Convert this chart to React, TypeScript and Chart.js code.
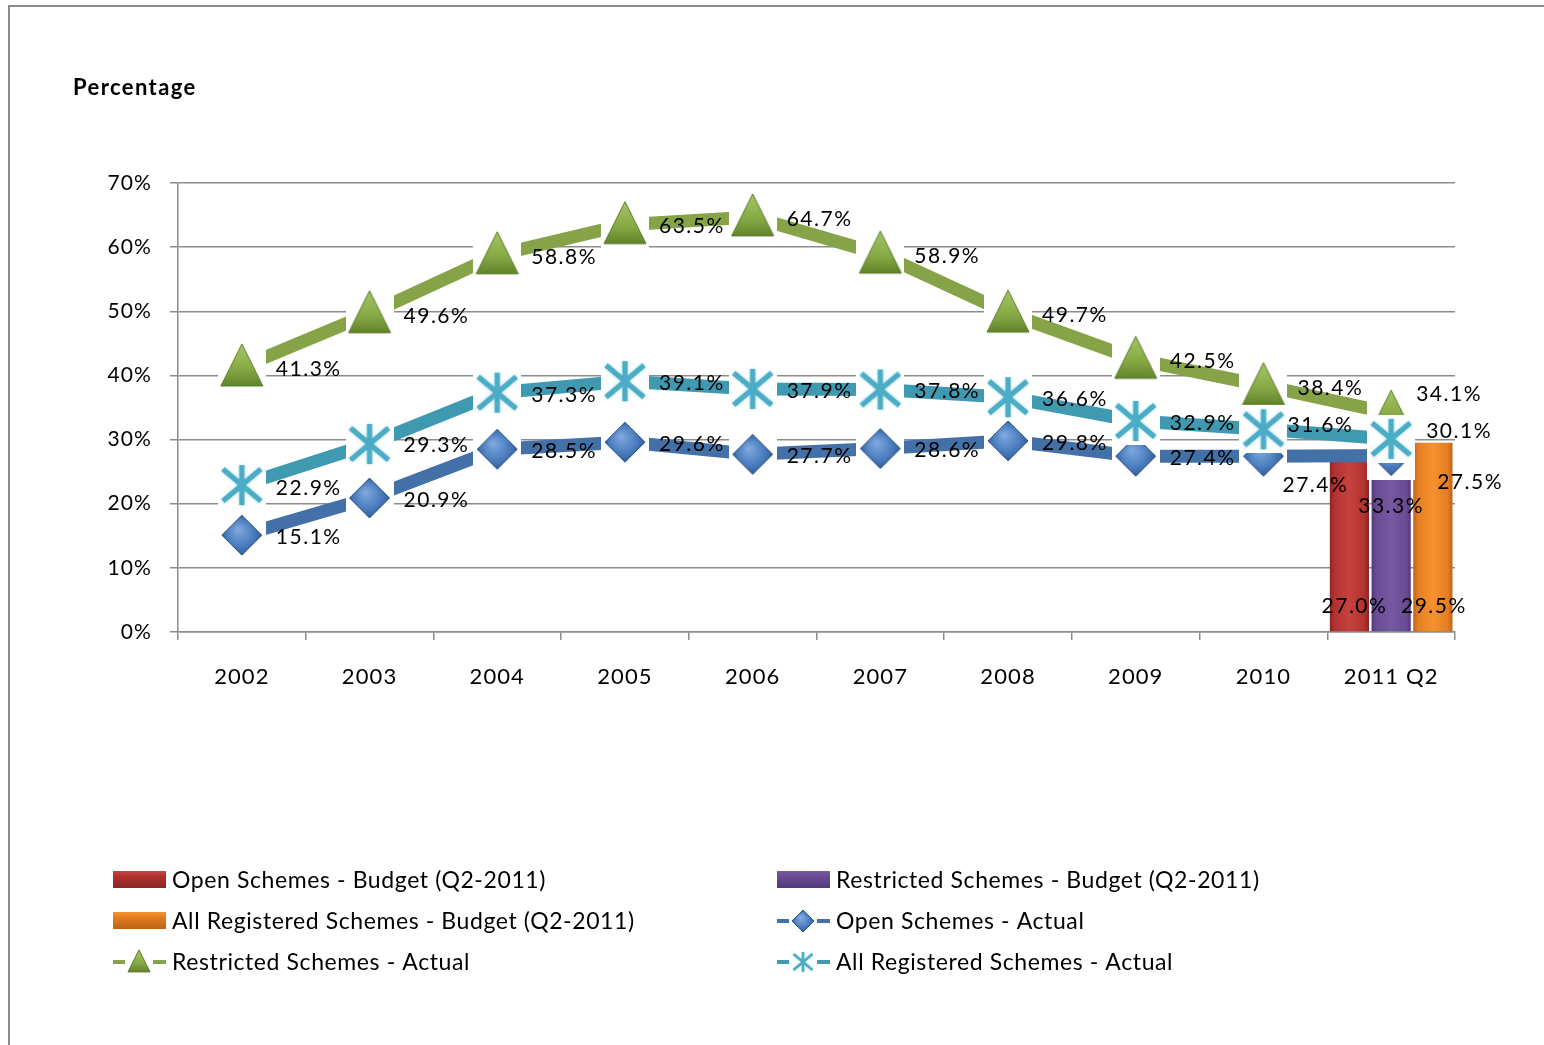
import React, { useEffect, useRef } from 'react';
import { Chart, registerables } from 'chart.js';

Chart.register(...registerables);

// ---------------- data ----------------
const categories = ['2002', '2003', '2004', '2005', '2006', '2007', '2008', '2009', '2010', '2011 Q2'];

const openBudget = [null, null, null, null, null, null, null, null, null, 27.0];
const restrictedBudget = [null, null, null, null, null, null, null, null, null, 33.3];
const allBudget = [null, null, null, null, null, null, null, null, null, 29.5];

const openActual = [15.1, 20.9, 28.5, 29.6, 27.7, 28.6, 29.8, 27.4, 27.4, 27.5];
const restrictedActual = [41.3, 49.6, 58.8, 63.5, 64.7, 58.9, 49.7, 42.5, 38.4, 34.1];
const allActual = [22.9, 29.3, 37.3, 39.1, 37.9, 37.8, 36.6, 32.9, 31.6, 30.1];

const yTicks = [0, 10, 20, 30, 40, 50, 60, 70];

const seriesLabels = [
  'Open Schemes - Budget (Q2-2011)',
  'Restricted Schemes - Budget (Q2-2011)',
  'All Registered Schemes - Budget (Q2-2011)',
  'Open Schemes - Actual',
  'Restricted Schemes - Actual',
  'All Registered Schemes - Actual',
];

const titleText = 'Percentage';

// ---------------- styles ----------------
const FONT = 'Lato, "Open Sans", sans-serif';
const GRID = '#8c8c8c';

// label offsets (relative to point) for line series
const openLabelDx = [34, 34, 34, 34, 34, 34, 34, 34, 19, 46];
const openLabelDy = [2, 2, 2, 2, 2, 2, 2, 2, 29, 27];
const restrictedLabelDx = [34, 34, 34, 34, 34, 34, 34, 34, 34, 25];
const restrictedLabelDy = [2, 2, 2, 2, 2, 2, 2, 2, 3, -19];
const allLabelDx = [34, 34, 34, 34, 34, 34, 34, 34, 24, 35];
const allLabelDy = [3, 1, 2, 2, 2, 2, 2, 2, -4, -8];
// bar labels: dx from bar centre, dy from bar base
const barLabelDx = [5, 0, 1];
const barLabelDy = [-25, -125, -25];

type Kind = 'triangle' | 'diamond' | 'asterisk';

function makeMarker(kind: Kind, box: number, size: number, white = true): HTMLCanvasElement {
  const c = document.createElement('canvas');
  c.width = box;
  c.height = box;
  const g = c.getContext('2d')!;
  if (white) {
    g.fillStyle = '#ffffff';
    g.fillRect(0, 0, box, box);
  }
  const m = box / 2;
  const h = size / 2;
  if (kind === 'triangle') {
    const cy = m - size * 0.05;
    const grad = g.createLinearGradient(0, cy - h, 0, cy + h);
    grad.addColorStop(0, '#a6c664');
    grad.addColorStop(0.6, '#86a945');
    grad.addColorStop(1, '#62832a');
    g.beginPath();
    g.moveTo(m, cy - h);
    g.lineTo(m + h, cy + h);
    g.lineTo(m - h, cy + h);
    g.closePath();
    g.fillStyle = grad;
    g.fill();
    g.strokeStyle = '#5a7826';
    g.lineWidth = 1;
    g.stroke();
  } else if (kind === 'diamond') {
    const grad = g.createRadialGradient(m - h * 0.2, m - h * 0.3, 1, m, m, h * 1.1);
    grad.addColorStop(0, '#7ea8de');
    grad.addColorStop(0.6, '#4a7cbd');
    grad.addColorStop(1, '#2c5793');
    g.beginPath();
    g.moveTo(m, m - h);
    g.lineTo(m + h, m);
    g.lineTo(m, m + h);
    g.lineTo(m - h, m);
    g.closePath();
    g.fillStyle = grad;
    g.fill();
    g.strokeStyle = '#2b5285';
    g.lineWidth = 1;
    g.stroke();
  } else {
    g.save();
    g.strokeStyle = '#4bacc6';
    g.shadowColor = '#a8dceb';
    g.shadowBlur = size * 0.08;
    g.lineWidth = Math.max(2, size * 0.13);
    g.lineCap = 'butt';
    g.beginPath();
    g.moveTo(m, m - h);
    g.lineTo(m, m + h);
    g.moveTo(m - h * 0.95, m - h * 0.8);
    g.lineTo(m + h * 0.95, m + h * 0.8);
    g.moveTo(m + h * 0.95, m - h * 0.8);
    g.lineTo(m - h * 0.95, m + h * 0.8);
    g.stroke();
    g.restore();
  }
  return c;
}

const barColors = [
  { edge: '#8a2624', mid: '#c4433f', base: '#b3322f' },
  { edge: '#52387a', mid: '#7658a3', base: '#6a4c93' },
  { edge: '#bd6216', mid: '#f5922f', base: '#e57e22' },
];
const lineColors = ['#4470a8', '#86a347', '#3f9ab1'];

export default function App() {
  const ref = useRef<HTMLCanvasElement | null>(null);

  useEffect(() => {
    const canvas = ref.current;
    if (!canvas) return;
    let chart: Chart | null = null;
    let cancelled = false;

    const markerTri = makeMarker('triangle', 48, 42);
    const markerDia = makeMarker('diamond', 48, 40);
    const markerAst = makeMarker('asterisk', 48, 40);
    const legendMarkers = [
      null,
      null,
      null,
      makeMarker('diamond', 26, 22, false),
      makeMarker('triangle', 26, 22, false),
      makeMarker('asterisk', 26, 20, false),
    ];

    const lineLabelDx = [openLabelDx, restrictedLabelDx, allLabelDx];
    const lineLabelDy = [openLabelDy, restrictedLabelDy, allLabelDy];

    const decorPlugin = {
      id: 'decor',
      beforeDraw(c: any) {
        const g = c.ctx;
        // spacing applied to all text in the chart (tick labels included)
        g.letterSpacing = '1.1px';
        g.save();
        g.fillStyle = '#ffffff';
        g.fillRect(0, 0, c.width, c.height);
        g.strokeStyle = '#8c8c8c';
        g.lineWidth = 2;
        g.beginPath();
        g.moveTo(9, 1045);
        g.lineTo(9, 6);
        g.lineTo(1544, 6);
        g.stroke();
        g.fillStyle = '#000';
        g.font = `bold 22px ${FONT}`;
        g.letterSpacing = '1.4px';
        g.textBaseline = 'middle';
        g.textAlign = 'left';
        g.fillText(titleText, 73, 88);
        g.restore();
      },
      afterDatasetsDraw(c: any) {
        const g = c.ctx;
        g.save();
        g.fillStyle = '#000';
        g.font = `21px ${FONT}`;
        g.letterSpacing = '1.5px';
        g.textBaseline = 'middle';
        c.data.datasets.forEach((ds: any, di: number) => {
          const meta = c.getDatasetMeta(di);
          meta.data.forEach((el: any, i: number) => {
            const v = ds.data[i];
            if (v === null || v === undefined) return;
            const txt = `${Number(v).toFixed(1)}%`;
            if (di < 3) {
              g.textAlign = 'center';
              g.fillText(txt, el.x + barLabelDx[di], el.base + barLabelDy[di]);
            } else {
              const li = di - 3;
              g.textAlign = 'left';
              g.fillText(txt, el.x + lineLabelDx[li][i], el.y + lineLabelDy[li][i]);
            }
          });
        });
        g.restore();
      },
      afterDraw(c: any) {
        const g = c.ctx;
        const cols = [113, 777];
        const rows = [880, 921, 962];
        const order = [0, 1, 2, 3, 4, 5];
        g.save();
        g.font = `23px ${FONT}`;
        g.letterSpacing = '0.6px';
        g.textBaseline = 'middle';
        g.textAlign = 'left';
        order.forEach((di, k) => {
          const x = cols[k % 2];
          const y = rows[Math.floor(k / 2)];
          if (di < 3) {
            const bc = barColors[di];
            const gr = g.createLinearGradient(0, y - 8, 0, y + 8);
            gr.addColorStop(0, bc.mid);
            gr.addColorStop(0.25, bc.base);
            gr.addColorStop(1, bc.edge);
            g.fillStyle = gr;
            g.fillRect(x, y - 9, 53, 17);
          } else {
            const col = lineColors[di - 3];
            g.strokeStyle = col;
            g.lineWidth = 4;
            g.beginPath();
            g.moveTo(x, y);
            g.lineTo(x + 12, y);
            g.moveTo(x + 40, y);
            g.lineTo(x + 53, y);
            g.stroke();
            const mk = legendMarkers[di]!;
            g.drawImage(mk, x + 26 - mk.width / 2, y - mk.height / 2);
          }
          g.fillStyle = '#000';
          g.fillText(c.data.datasets[di].label, x + 59, y + 1);
        });
        g.restore();
        g.letterSpacing = '0px';
      },
    };

    const build = () => {
      if (cancelled) return;
      chart = new Chart(canvas, {
        type: 'bar',
        data: {
          labels: categories,
          datasets: [
            { type: 'bar', label: seriesLabels[0], data: openBudget, backgroundColor: barColors[0].base, order: 10, categoryPercentage: 0.98, barPercentage: 0.94 } as any,
            { type: 'bar', label: seriesLabels[1], data: restrictedBudget, backgroundColor: barColors[1].base, order: 10, categoryPercentage: 0.98, barPercentage: 0.94 } as any,
            { type: 'bar', label: seriesLabels[2], data: allBudget, backgroundColor: barColors[2].base, order: 10, categoryPercentage: 0.98, barPercentage: 0.94 } as any,
            { type: 'line', label: seriesLabels[3], data: openActual, borderColor: lineColors[0], backgroundColor: lineColors[0], borderWidth: 13, pointStyle: markerDia, pointRadius: 20, order: 3, tension: 0, borderCapStyle: 'butt' } as any,
            { type: 'line', label: seriesLabels[4], data: restrictedActual, borderColor: lineColors[1], backgroundColor: lineColors[1], borderWidth: 13, pointStyle: markerTri, pointRadius: 20, order: 2, tension: 0, borderCapStyle: 'butt' } as any,
            { type: 'line', label: seriesLabels[5], data: allActual, borderColor: lineColors[2], backgroundColor: lineColors[2], borderWidth: 13, pointStyle: markerAst, pointRadius: 20, order: 1, tension: 0, borderCapStyle: 'butt' } as any,
          ],
        },
        options: {
          responsive: false,
          animation: false,
          devicePixelRatio: 1,
          layout: { padding: { left: 78, right: 89, top: 183, bottom: 353 } },
          plugins: {
            legend: { display: false },
            title: { display: false },
            tooltip: { enabled: false },
          },
          scales: {
            x: {
              offset: true,
              grid: { display: true, drawOnChartArea: false, drawTicks: true, tickLength: 8, color: GRID, lineWidth: 1.5, offset: true },
              border: { display: true, color: GRID, width: 1.5 },
              ticks: { font: { family: FONT, size: 22 }, color: '#000', padding: 24, maxRotation: 0, autoSkip: false },
              afterFit: (s: any) => { s.height = 60; },
            },
            y: {
              min: 0,
              max: 70,
              afterBuildTicks: (s: any) => { s.ticks = yTicks.map((v) => ({ value: v })); },
              ticks: { font: { family: FONT, size: 21 }, color: '#000', padding: 18, callback: (v: any) => `${v}%` },
              grid: { color: GRID, lineWidth: 1.5, tickLength: 8 },
              border: { display: true, color: GRID, width: 1.5 },
              afterFit: (s: any) => { s.width = 100; },
            },
          },
        } as any,
        plugins: [decorPlugin],
      });

      // horizontal shading for the bars, built from their drawn positions
      const g = canvas.getContext('2d')!;
      [0, 1, 2].forEach((di) => {
        const meta = chart!.getDatasetMeta(di);
        const el: any = meta.data[categories.length - 1];
        if (!el) return;
        const left = el.x - el.width / 2;
        const right = el.x + el.width / 2;
        const gr = g.createLinearGradient(left, 0, right, 0);
        const bc = barColors[di];
        gr.addColorStop(0, bc.edge);
        gr.addColorStop(0.12, bc.base);
        gr.addColorStop(0.5, bc.mid);
        gr.addColorStop(0.88, bc.base);
        gr.addColorStop(1, bc.edge);
        (chart!.data.datasets[di] as any).backgroundColor = gr;
      });
      chart.update();
    };

    const fontsReady = (document as any).fonts
      ? Promise.all([
          (document as any).fonts.load(`22px Lato`),
          (document as any).fonts.load(`bold 22px Lato`),
        ]).catch(() => null)
      : Promise.resolve(null);
    fontsReady.then(build);

    return () => {
      cancelled = true;
      if (chart) chart.destroy();
    };
  }, []);

  return (
    <div style={{ position: 'absolute', left: 0, top: 0, width: 1544, height: 1045, background: '#fff' }}>
      <canvas ref={ref} width={1544} height={1045} style={{ display: 'block', width: 1544, height: 1045 }} />
    </div>
  );
}
